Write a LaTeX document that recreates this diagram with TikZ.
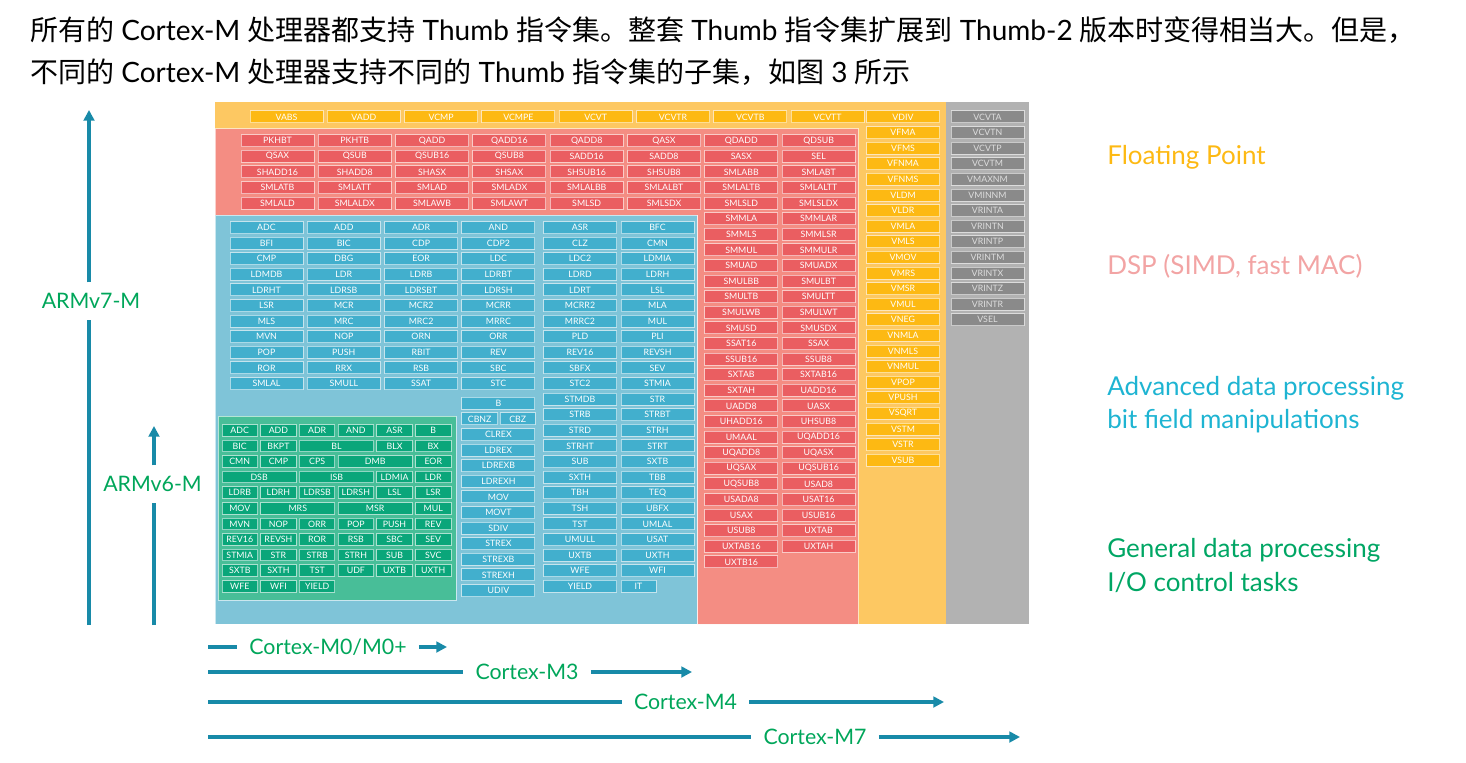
\documentclass[tikz,border=0pt]{standalone}
\usepackage{fontspec}
\setmainfont{Lato}
\newfontfamily\cjk{Noto Sans CJK SC}
\usetikzlibrary{arrows.meta}
\definecolor{fpbg}{RGB}{253,200,98}
\definecolor{fpbox}{RGB}{253,185,19}
\definecolor{dspbg}{RGB}{244,141,131}
\definecolor{dspbox}{RGB}{234,94,97}
\definecolor{advbg}{RGB}{127,196,216}
\definecolor{advbox}{RGB}{66,175,205}
\definecolor{genbg}{RGB}{72,190,152}
\definecolor{genbox}{RGB}{10,166,122}
\definecolor{vbg}{RGB}{178,178,178}
\definecolor{vbox}{RGB}{138,138,138}
\definecolor{arrowc}{RGB}{24,138,168}
\definecolor{lblgreen}{RGB}{0,166,90}
\definecolor{fptxt}{RGB}{253,185,19}
\definecolor{dsptxt}{RGB}{242,164,164}
\definecolor{advtxt}{RGB}{30,180,210}
\definecolor{gentxt}{RGB}{0,166,100}
\tikzset{
  ib/.style={draw=white, draw opacity=0.55, line width=0.75pt, minimum width=73*0.75pt,
    minimum height=12*0.75pt, inner sep=0pt, text=white, font=\fontsize{6.6}{7}\selectfont},
  fpb/.style={ib, fill=fpbox},
  dsb/.style={ib, fill=dspbox},
  adb/.style={ib, fill=advbox},
  gnb/.style={ib, fill=genbox, minimum height=11.5*0.75pt},
  vb/.style={ib, fill=vbox, text={rgb,255:red,222;green,222;blue,222}},
  region/.style={draw=white, draw opacity=0.6, line width=0.75pt},
  arr/.style={draw=arrowc, line width=2.3pt},
  arrh/.style={arr, -{Triangle[length=8pt,width=8pt]}},
  lbl/.style={text=lblgreen, font=\fontsize{16}{18}\selectfont, inner xsep=9pt},
  side/.style={anchor=west, inner sep=0pt, font=\fontsize{19.5}{21}\selectfont},
  hdr/.style={anchor=west, inner sep=0pt, font=\fontsize{21}{24}\selectfont}
}
\begin{document}
\begin{tikzpicture}[x=0.75pt,y=-0.75pt]
\useasboundingbox (0,0) rectangle (1466,763);
% header
\node[hdr] (h1) at (30,30) {{\cjk 所有的} Cortex-M {\cjk 处理器都支持} Thumb {\cjk 指令集。整套} Thumb {\cjk 指令集扩展到} Thumb-2 {\cjk 版本时变得相当大。但是，}};
\node[hdr] (h2) at (30,72) {{\cjk 不同的} Cortex-M {\cjk 处理器支持不同的} Thumb {\cjk 指令集的子集，如图} 3 {\cjk 所示}};
% regions
\fill[fpbg] (215,102) rectangle (946,624);
\fill[vbg] (946,102) rectangle (1029,624);
\path[region, fill=dspbg] (215,129) -- (858,129) -- (858,624) -- (697,624) -- (697,215) -- (215,215) -- cycle;
\path[region, fill=advbg] (215,215) rectangle (697,624);
\path[region, fill=genbg] (218,416) rectangle (456,600);
% floating point
\foreach \t [count=\c from 0] in {VABS,VADD,VCMP,VCMPE,VCVT,VCVTR,VCVTB,VCVTT}
  \node[fpb] (fpt\c) at ({286.5+77.3*\c},117) {\t};
\foreach \t [count=\r from 0] in {VDIV,VFMA,VFMS,VFNMA,VFNMS,VLDM,VLDR,VMLA,VMLS,VMOV,VMRS,VMSR,VMUL,VNEG,VNMLA,VNMLS,VNMUL,VPOP,VPUSH,VSQRT,VSTM,VSTR,VSUB}
  \node[fpb] (fpc\r) at (903,{117+15.6*\r}) {\t};
% armv8 extras
\foreach \t [count=\r from 0] in {VCVTA,VCVTN,VCVTP,VCVTM,VMAXNM,VMINNM,VRINTA,VRINTN,VRINTP,VRINTM,VRINTX,VRINTZ,VRINTR,VSEL}
  \node[vb] (v8\r) at (987.5,{117+15.6*\r}) {\t};
% DSP rows
\foreach \row [count=\r from 0] in {
  {PKHBT,PKHTB,QADD,QADD16,QADD8,QASX,QDADD,QDSUB},
  {QSAX,QSUB,QSUB16,QSUB8,SADD16,SADD8,SASX,SEL},
  {SHADD16,SHADD8,SHASX,SHSAX,SHSUB16,SHSUB8,SMLABB,SMLABT},
  {SMLATB,SMLATT,SMLAD,SMLADX,SMLALBB,SMLALBT,SMLALTB,SMLALTT},
  {SMLALD,SMLALDX,SMLAWB,SMLAWT,SMLSD,SMLSDX,SMLSLD,SMLSLDX}}
  \foreach \t [count=\c from 0] in \row
    \node[dsb] (dsp\r-\c) at ({277.5+77.3*\c},{140.7+15.6*\r}) {\t};
\foreach \a/\b [count=\r from 5] in {SMMLA/SMMLAR,SMMLS/SMMLSR,SMMUL/SMMULR,SMUAD/SMUADX,SMULBB/SMULBT,SMULTB/SMULTT,SMULWB/SMULWT,SMUSD/SMUSDX,SSAT16/SSAX,SSUB16/SSUB8,SXTAB/SXTAB16,SXTAH/UADD16,UADD8/UASX,UHADD16/UHSUB8,UMAAL/UQADD16,UQADD8/UQASX,UQSAX/UQSUB16,UQSUB8/USAD8,USADA8/USAT16,USAX/USUB16,USUB8/UXTAB,UXTAB16/UXTAH}{
  \node[dsb] (dsp\r-6) at (741.3,{140.7+15.6*\r}) {\a};
  \node[dsb] (dsp\r-7) at (818.6,{140.7+15.6*\r}) {\b};
}
\node[dsb] (dsp27-6) at (741.3,{140.7+15.6*27}) {UXTB16};
% advanced data processing
\foreach \row [count=\r from 0] in {
  {ADC,ADD,ADR,AND,ASR,BFC},
  {BFI,BIC,CDP,CDP2,CLZ,CMN},
  {CMP,DBG,EOR,LDC,LDC2,LDMIA},
  {LDMDB,LDR,LDRB,LDRBT,LDRD,LDRH},
  {LDRHT,LDRSB,LDRSBT,LDRSH,LDRT,LSL},
  {LSR,MCR,MCR2,MCRR,MCRR2,MLA},
  {MLS,MRC,MRC2,MRRC,MRRC2,MUL},
  {MVN,NOP,ORN,ORR,PLD,PLI},
  {POP,PUSH,RBIT,REV,REV16,REVSH},
  {ROR,RRX,RSB,SBC,SBFX,SEV},
  {SMLAL,SMULL,SSAT,STC,STC2,STMIA}}
  \foreach \t [count=\c from 0] in \row {
    \pgfmathsetmacro\xx{\c<4 ? 266.5+77.3*\c : 580+77.5*(\c-4)}
    \node[adb] (adv\r-\c) at (\xx,{227.5+15.6*\r}) {\t};
  }
\foreach \a/\b [count=\r from 11] in {STMDB/STR,STRB/STRBT,STRD/STRH,STRHT/STRT,SUB/SXTB,SXTH/TBB,TBH/TEQ,TSH/UBFX,TST/UMLAL,UMULL/USAT,UXTB/UXTH,WFE/WFI}{
  \node[adb] (adv\r-4) at (580,{227.5+15.6*\r}) {\a};
  \node[adb] (adv\r-5) at (657.5,{227.5+15.6*\r}) {\b};
}
\node[adb] (adv23-4) at (580,{227.5+15.6*23}) {YIELD};
\node[adb, minimum width=35*0.75pt] (adv23-5) at (638.5,{227.5+15.6*23}) {IT};
\node[adb] (advl0) at (498.4,403.3) {B};
\node[adb, minimum width=36*0.75pt] (advl1a) at (479.7,418.9) {CBNZ};
\node[adb, minimum width=35*0.75pt] (advl1b) at (517.7,418.9) {CBZ};
\foreach \t [count=\k from 2] in {CLREX,LDREX,LDREXB,LDREXH,MOV,MOVT,SDIV,STREX,STREXB,STREXH,UDIV}
  \node[adb] (advl\k) at (498.4,{403.3+15.6*\k}) {\t};
% general data processing
\foreach \t/\r/\c/\s [count=\i] in {
  ADC/0/0/1,ADD/0/1/1,ADR/0/2/1,AND/0/3/1,ASR/0/4/1,B/0/5/1,
  BIC/1/0/1,BKPT/1/1/1,BL/1/2/2,BLX/1/4/1,BX/1/5/1,
  CMN/2/0/1,CMP/2/1/1,CPS/2/2/1,DMB/2/3/2,EOR/2/5/1,
  DSB/3/0/2,ISB/3/2/2,LDMIA/3/4/1,LDR/3/5/1,
  LDRB/4/0/1,LDRH/4/1/1,LDRSB/4/2/1,LDRSH/4/3/1,LSL/4/4/1,LSR/4/5/1,
  MOV/5/0/1,MRS/5/1/2,MSR/5/3/2,MUL/5/5/1,
  MVN/6/0/1,NOP/6/1/1,ORR/6/2/1,POP/6/3/1,PUSH/6/4/1,REV/6/5/1,
  REV16/7/0/1,REVSH/7/1/1,ROR/7/2/1,RSB/7/3/1,SBC/7/4/1,SEV/7/5/1,
  STMIA/8/0/1,STR/8/1/1,STRB/8/2/1,STRH/8/3/1,SUB/8/4/1,SVC/8/5/1,
  SXTB/9/0/1,SXTH/9/1/1,TST/9/2/1,UDF/9/3/1,UXTB/9/4/1,UXTH/9/5/1,
  WFE/10/0/1,WFI/10/1/1,YIELD/10/2/1}
  \node[gnb, minimum width={(35.5+38.7*(\s-1))*0.75pt}] (gen\i) at ({239.75+38.7*\c+19.35*(\s-1)},{430.3+15.6*\r}) {\t};
% side labels
\node[side, text=fptxt] (lfp) at (1107,157) {Floating Point};
\node[side, text=dsptxt] (ldsp) at (1107,266) {DSP (SIMD, fast MAC)};
\node[side, text=advtxt] (ladv1) at (1107,388) {Advanced data processing};
\node[side, text=advtxt] (ladv2) at (1107,421) {bit field manipulations};
\node[side, text=gentxt] (lgen1) at (1107,550) {General data processing};
\node[side, text=gentxt] (lgen2) at (1107,583) {I/O control tasks};
% architecture arrows
\coordinate (v7b) at (89,625); \coordinate (v7t) at (89,110);
\node[lbl, inner ysep=8pt] (v7) at (91,301) {ARMv7-M};
\draw[arr] (v7b) -- (v7b |- v7.south);
\draw[arrh] (v7t |- v7.north) -- (v7t);
\coordinate (v6b) at (154,625); \coordinate (v6t) at (154,426);
\node[lbl, inner ysep=8pt] (v6) at (152.5,484) {ARMv6-M};
\draw[arr] (v6b) -- (v6b |- v6.south);
\draw[arrh] (v6t |- v6.north) -- (v6t);
% cortex arrows
\foreach \n/\y/\cx/\ex/\txt in {m0/647/328/447/{Cortex-M0/M0+}, m3/672/527/692/{Cortex-M3}, m4/702/685.5/944/{Cortex-M4}, m7/737/815/1020/{Cortex-M7}}{
  \coordinate (\n s) at (208,\y);
  \coordinate (\n e) at (\ex,\y);
  \node[lbl] (\n) at (\cx,\y) {\txt};
  \draw[arr] (\n s) -- (\n.west);
  \draw[arrh] (\n.east) -- (\n e);
}
\end{tikzpicture}
\end{document}
